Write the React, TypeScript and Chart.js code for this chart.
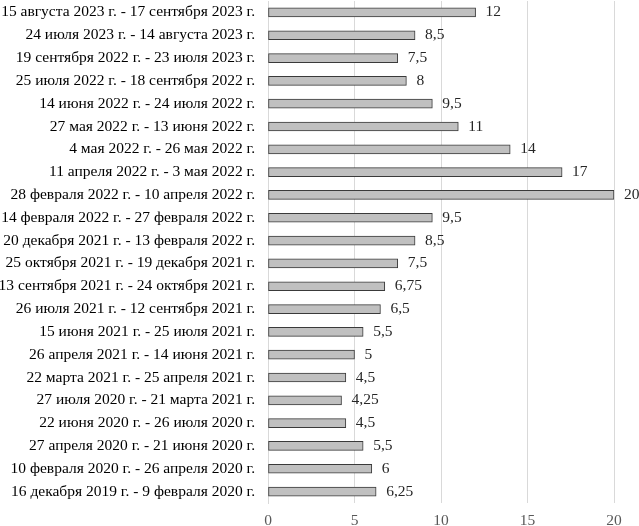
import React, { useEffect, useRef } from "react";
import { Chart, registerables } from "chart.js";

Chart.register(...registerables);

const categories = [
  "15 августа 2023 г. - 17 сентября 2023 г.",
  "24 июля 2023 г. - 14 августа 2023 г.",
  "19 сентября 2022 г. - 23 июля 2023 г.",
  "25 июля 2022 г. - 18 сентября 2022 г.",
  "14 июня 2022 г. - 24 июля 2022 г.",
  "27 мая 2022 г. - 13 июня 2022 г.",
  "4 мая 2022 г. - 26 мая 2022 г.",
  "11 апреля 2022 г. - 3 мая 2022 г.",
  "28 февраля 2022 г. - 10 апреля 2022 г.",
  "14 февраля 2022 г. - 27 февраля 2022 г.",
  "20 декабря 2021 г. - 13 февраля 2022 г.",
  "25 октября 2021 г. - 19 декабря 2021 г.",
  "13 сентября 2021 г. - 24 октября 2021 г.",
  "26 июля 2021 г. - 12 сентября 2021 г.",
  "15 июня 2021 г. - 25 июля 2021 г.",
  "26 апреля 2021 г. - 14 июня 2021 г.",
  "22 марта 2021 г. - 25 апреля 2021 г.",
  "27 июля 2020 г. - 21 марта 2021 г.",
  "22 июня 2020 г. - 26 июля 2020 г.",
  "27 апреля 2020 г. - 21 июня 2020 г.",
  "10 февраля 2020 г. - 26 апреля 2020 г.",
  "16 декабря 2019 г. - 9 февраля 2020 г.",
];

const rates = [
  12, 8.5, 7.5, 8, 9.5, 11, 14, 17, 20, 9.5, 8.5, 7.5, 6.75, 6.5, 5.5, 5, 4.5,
  4.25, 4.5, 5.5, 6, 6.25,
];

const xTicks = [0, 5, 10, 15, 20];

const FONT = "'Liberation Serif', 'Times New Roman', serif";

const fmt = (v: number) => String(v).replace(".", ",");

const labelPlugin = {
  id: "valueLabels",
  afterDatasetsDraw(chart: any) {
    const ctx = chart.ctx;
    const meta = chart.getDatasetMeta(0);
    ctx.save();
    ctx.font = `15.5px ${FONT}`;
    ctx.fillStyle = "#262626";
    ctx.textAlign = "left";
    ctx.textBaseline = "middle";
    meta.data.forEach((bar: any, i: number) => {
      ctx.fillText(fmt(rates[i]), bar.x + 10, bar.y);
    });
    ctx.restore();
  },
};

export default function App() {
  const ref = useRef<HTMLCanvasElement>(null);
  useEffect(() => {
    document.body.style.margin = "0";
    const chart = new Chart(ref.current!, {
      type: "bar",
      data: {
        labels: categories,
        datasets: [
          {
            data: rates,
            backgroundColor: "#C0C0C0",
            borderColor: "#3a3a3a",
            borderWidth: 1,
            borderSkipped: false,
            barThickness: 9,
          },
        ],
      },
      options: {
        indexAxis: "y",
        animation: false,
        responsive: false,
        maintainAspectRatio: false,
        layout: { padding: { top: 1, right: 25, left: 0, bottom: 0 } },
        plugins: { legend: { display: false }, tooltip: { enabled: false } },
        scales: {
          x: {
            min: 0,
            max: 20,
            afterBuildTicks: (s: any) => {
              s.ticks = xTicks.map((v) => ({ value: v }));
            },
            afterFit: (s: any) => {
              s.height = 23;
              s.paddingLeft = 0;
              s.paddingRight = 0;
            },
            grid: { color: "#d9d9d9", drawTicks: false },
            border: { display: false },
            ticks: {
              padding: 9,
              color: "#595959",
              font: { family: FONT, size: 15.5 },
            },
          },
          y: {
            afterFit: (s: any) => {
              s.width = 268;
              s.paddingTop = 0;
              s.paddingBottom = 0;
            },
            grid: { display: false, drawTicks: false },
            border: { display: true, color: "#d9d9d9" },
            ticks: {
              padding: 13,
              color: "#000000",
              autoSkip: false,
              font: { family: FONT, size: 15.5 },
            },
          },
        },
      },
      plugins: [labelPlugin],
    });
    return () => chart.destroy();
  }, []);
  return <canvas ref={ref} width={639} height={526} style={{ display: "block" }} />;
}
